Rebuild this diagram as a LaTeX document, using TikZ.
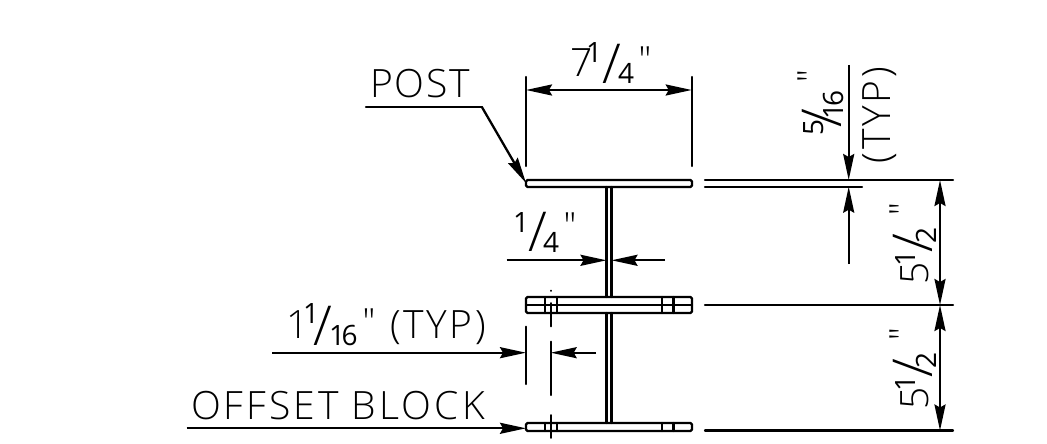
\documentclass[tikz,border=0pt]{standalone}
\usepackage{fontspec}
\setmainfont{Open Sans}
\newfontfamily\lgt{Open Sans}[UprightFont=* Light]
\usetikzlibrary{arrows.meta}
\tikzset{
  x=1pt,y=-1pt,
  ln/.style={line width=2.3pt,line join=round,line cap=round},
  thinl/.style={line width=1.6pt,line cap=round},
  arr/.style={-{Stealth[length=26pt,width=11pt,inset=3pt]},ln,line cap=butt},
  darr/.style={{Stealth[length=26pt,width=11pt,inset=3pt]}-{Stealth[length=26pt,width=11pt,inset=3pt]},ln,line cap=butt},
  bigt/.style={font=\lgt\fontsize{39}{39}\selectfont,anchor=base west,inner sep=0pt,outer sep=0pt},
  dig/.style={font=\fontsize{28}{28}\selectfont,anchor=base west,inner sep=0pt,outer sep=0pt},
  sl/.style={font=\lgt\fontsize{55}{55}\selectfont,anchor=center,inner sep=0pt,outer sep=0pt},
  qt/.style={font=\lgt\fontsize{36}{36}\selectfont,anchor=center,inner sep=0pt,outer sep=0pt},
}
\begin{document}
\begin{tikzpicture}
\useasboundingbox (0,0) rectangle (1047,444);
% post sections
\draw[ln,rounded corners=1.5pt] (526,180) rectangle (692,187);
\draw[ln,rounded corners=1.5pt] (526,297) rectangle (692,313);
\draw[ln,rounded corners=1.5pt] (526,423) rectangle (692,431);
\draw[ln] (526,305.2) -- (692,305.2);
\draw[ln] (606.5,187) -- (606.5,297) (611.5,187) -- (611.5,297);
\draw[ln] (606.5,313) -- (606.5,423) (611.5,313) -- (611.5,423);
\foreach \xx in {545,557,662,673.5}{
  \draw[ln] (\xx,297) -- (\xx,313);
  \draw[ln] (\xx,423) -- (\xx,431);
}
% centre line
\draw[thinl] (550.7,290.5) -- (550.7,291);
\draw[thinl] (550.7,303) -- (550.7,326.5);
\draw[thinl] (550.7,415) -- (550.7,438);
% right side lines
\draw[ln] (705,180) -- (953,180);
\draw[ln] (705,186.7) -- (862,186.7);
\draw[ln] (705,305) -- (953,305);
\draw[ln] (705,430.5) -- (953,430.5);
% 7 1/4 dimension
\draw[ln] (526,77) -- (526,166);
\draw[ln] (691.7,77) -- (691.7,166);
\draw[darr] (526,90) -- (691.7,90);
% POST leader
\coordinate (pa) at (366,106.7);
\coordinate (pb) at (481.7,106.7);
\coordinate (pc) at (526,183);
\draw[ln] (pa) -- (pb);
\draw[arr] (pb) -- (pc);
% 1/4 arrows
\draw[arr] (506.7,260.3) -- (606.5,260.3);
\draw[arr] (665,260.3) -- (611.5,260.3);
% 1 1/16 dims
\draw[ln] (526,326.7) -- (526,384);
\draw[ln] (550.7,341.7) -- (550.7,395);
\draw[arr] (272,352.7) -- (526,352.7);
\draw[arr] (596,352.7) -- (550.7,352.7);
% offset block arrow
\draw[arr] (186.7,428.3) -- (526,428.3);
% 5/16 arrows
\draw[arr] (848.7,65) -- (848.7,180);
\draw[arr] (848.7,264) -- (848.7,186.7);
% 5 1/2 dims
\draw[darr] (940,180) -- (940,305);
\draw[darr] (940,305) -- (940,430.5);
% labels
\node[bigt] (post) at (370,97) {\addfontfeature{LetterSpace=5}POST};
\node[bigt] (seven) at (570,77) {7};
\node[dig] (sevena) at (586,63) {1};
\node[sl] (sevens) at (611.5,63.5) {/};
\node[dig] (sevenb) at (618,84) {4};
\node[qt] (sevenq) at (645,60) {"};
\node[dig] (qa) at (513,232) {1};
\node[sl] (qs) at (538,231.5) {/};
\node[dig] (qb) at (543,252) {4};
\node[qt] (qq) at (570,226) {"};
\node[bigt] (sa) at (286,338) {1};
\node[dig] (sb) at (303,323) {1};
\node[sl] (ss) at (323,326) {/};
\node[dig] (sc) at (329,345) {\addfontfeature{LetterSpace=-12}16};
\node[qt] (sq) at (369,322) {"};
\node[bigt] (st) at (390,338) {\addfontfeature{LetterSpace=7}(TYP)};
\node[bigt] (off) at (191,419) {\addfontfeature{LetterSpace=8}OFFSET BLOCK};
% 5/16
\node[dig,rotate=90] (fa) at (823,135) {5};
\node[sl,rotate=90] (fs) at (822,118) {/};
\node[dig,rotate=90] (fb) at (843,119) {\addfontfeature{LetterSpace=-12}16};
\node[qt,rotate=90] (fq) at (811,76) {"};
\node[bigt,rotate=90] (ft) at (890,163) {\addfontfeature{LetterSpace=7}(TYP)};
% 5 1/2 upper
\node[bigt,rotate=90] (ua) at (928,284) {5};
\node[dig,rotate=90] (ub) at (915,266) {1};
\node[sl,rotate=90] (us) at (913,243) {/};
\node[dig,rotate=90] (uc) at (936,243) {2};
\node[qt,rotate=90] (uq) at (903,209) {"};
% 5 1/2 lower
\node[bigt,rotate=90] (la) at (928,409) {5};
\node[dig,rotate=90] (lb) at (915,391) {1};
\node[sl,rotate=90] (ls) at (913,368) {/};
\node[dig,rotate=90] (lc) at (936,368) {2};
\node[qt,rotate=90] (lq) at (903,334) {"};
\end{tikzpicture}
\end{document}
